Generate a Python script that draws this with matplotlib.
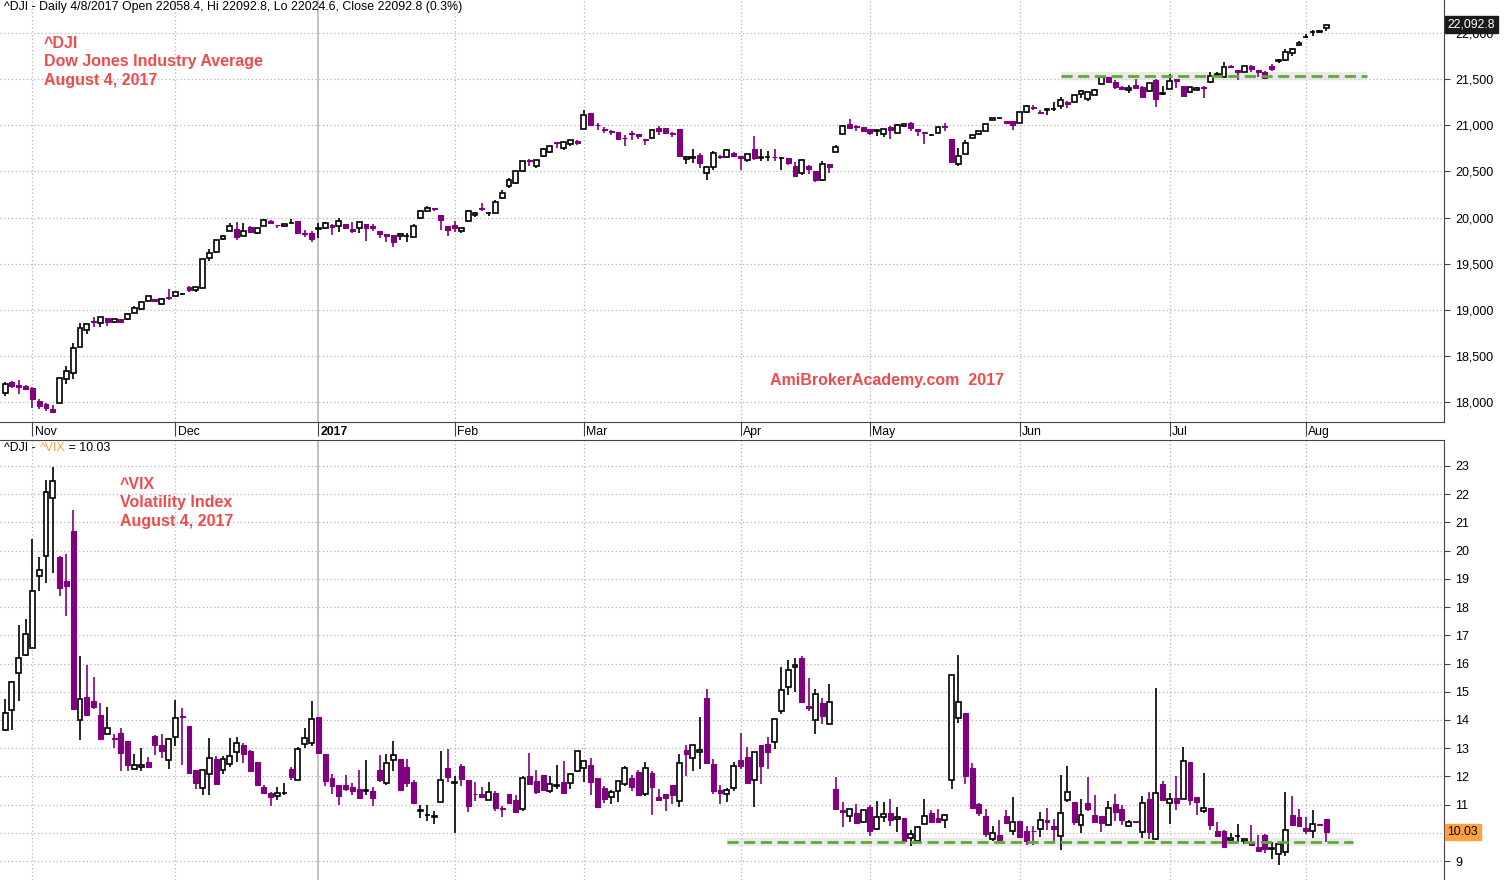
import numpy as np
import matplotlib
matplotlib.use("Agg")
import matplotlib.pyplot as plt
from matplotlib.transforms import blended_transform_factory

plt.rcParams['font.family'] = ['Liberation Sans', 'DejaVu Sans']

# ---- data, one entry per trading day, 26 Oct 2016 .. 4 Aug 2017 ----
dji_open = [18094, 18220, 18184, 18174, 18152, 18010, 17978, 17928, 17994, 18251,
            18317, 18600, 18780, 18876, 18860, 18910, 18870, 18897, 18897, 18962,
            19005, 19093, 19117, 19060, 19135, 19150, 19170, 19247, 19211, 19241,
            19557, 19630, 19764, 19850, 19876, 19805, 19902, 19836, 19913, 19967,
            19922, 19910, 19943, 19960, 19835, 19830, 19872, 19890, 19924, 19906,
            19931, 19876, 19887, 19926, 19905, 19852, 19819, 19810, 19795, 19795,
            19794, 19994, 20076, 20100, 20028, 19906, 19917, 19855, 19960, 20025,
            20101, 20050, 20051, 20210, 20338, 20374, 20504, 20627, 20564, 20663,
            20714, 20815, 20750, 20800, 20835, 20957, 21130, 21008, 20959, 20935,
            20930, 20860, 20919, 20906, 20850, 20867, 20967, 20967, 20917, 20957,
            20640, 20649, 20674, 20486, 20545, 20670, 20660, 20700, 20665, 20630,
            20740, 20650, 20654, 20660, 20650, 20642, 20555, 20480, 20556, 20500,
            20404, 20577, 20714, 20910, 21011, 20993, 20980, 20962, 20944, 20910,
            20986, 20920, 20988, 21022, 20957, 20928, 20893, 20920, 20989, 20850,
            20580, 20692, 20866, 20910, 20940, 21062, 21076, 21045, 21043, 21030,
            21140, 21195, 21150, 21170, 21180, 21206, 21257, 21257, 21344, 21290,
            21333, 21447, 21523, 21472, 21420, 21380, 21436, 21414, 21370, 21494,
            21345, 21393, 21505, 21425, 21360, 21384, 21418, 21470, 21550, 21530,
            21640, 21602, 21580, 21645, 21602, 21580, 21645, 21693, 21712, 21784,
            21873, 21960, 22015, 22011, 22058.4]
dji_high = [18217, 18230, 18238, 18180, 18160, 18030, 17990, 17968, 18260, 18390,
            18640, 18860, 18850, 18922, 18925, 18915, 18897, 18900, 18960, 19043,
            19083, 19152, 19118, 19130, 19225, 19196, 19180, 19255, 19252, 19550,
            19660, 19760, 19810, 19941, 19955, 19939, 19905, 19888, 19987, 19970,
            19922, 19935, 19980, 19965, 19862, 19860, 19938, 19955, 19930, 19999,
            19935, 19953, 19954, 19930, 19935, 19855, 19820, 19812, 19830, 19830,
            19935, 20080, 20125, 20102, 20030, 19910, 19960, 19890, 20081, 20060,
            20155, 20062, 20190, 20298, 20425, 20504, 20612, 20639, 20624, 20751,
            20777, 20821, 20822, 20840, 20840, 21169, 21130, 21025, 20980, 20950,
            20930, 20900, 20940, 20910, 20852, 20950, 20993, 20968, 20932, 20960,
            20665, 20747, 20700, 20563, 20725, 20677, 20740, 20710, 20667, 20690,
            20887, 20739, 20718, 20740, 20655, 20645, 20602, 20636, 20573, 20500,
            20616, 20580, 20783, 21007, 21070, 21000, 20985, 20965, 20950, 20960,
            20990, 21010, 21020, 21040, 20960, 20930, 20900, 20982, 21022, 20850,
            20750, 20841, 20900, 20940, 21012, 21085, 21082, 21050, 21043, 21144,
            21225, 21216, 21165, 21177, 21257, 21305, 21260, 21330, 21380, 21360,
            21390, 21535, 21523, 21497, 21430, 21436, 21505, 21425, 21460, 21500,
            21430, 21560, 21505, 21425, 21418, 21420, 21430, 21576, 21577, 21685,
            21655, 21605, 21642, 21655, 21605, 21585, 21668, 21722, 21830, 21840,
            21920, 21990, 22036, 22036, 22092.8]
dji_low = [18062, 18150, 18087, 18125, 17935, 17924, 17902, 17883, 17994, 18200,
           18250, 18600, 18740, 18818, 18808, 18828, 18862, 18855, 18890, 18960,
           19000, 19090, 19080, 19050, 19110, 19135, 19160, 19190, 19190, 19240,
           19532, 19620, 19753, 19850, 19753, 19800, 19830, 19820, 19910, 19935,
           19890, 19900, 19940, 19830, 19790, 19730, 19775, 19880, 19812, 19840,
           19873, 19830, 19832, 19750, 19855, 19780, 19740, 19680, 19760, 19740,
           19794, 19990, 20070, 20070, 19870, 19800, 19840, 19835, 19955, 20010,
           20070, 20020, 20051, 20200, 20320, 20365, 20496, 20556, 20540, 20655,
           20700, 20750, 20735, 20775, 20785, 20957, 20990, 20955, 20915, 20897,
           20842, 20776, 20838, 20848, 20786, 20866, 20895, 20905, 20877, 20656,
           20584, 20597, 20537, 20413, 20520, 20635, 20650, 20660, 20515, 20600,
           20630, 20613, 20613, 20613, 20515, 20574, 20439, 20460, 20472, 20386,
           20398, 20486, 20714, 20906, 20970, 20942, 20930, 20900, 20884, 20877,
           20848, 20915, 20985, 20940, 20884, 20801, 20880, 20915, 20938, 20602,
           20560, 20690, 20860, 20895, 20938, 21060, 21066, 21020, 20950, 21025,
           21137, 21170, 21120, 21112, 21160, 21180, 21190, 21255, 21300, 21265,
           21330, 21445, 21460, 21400, 21395, 21350, 21400, 21310, 21365, 21197,
           21330, 21390, 21410, 21310, 21355, 21380, 21295, 21460, 21520, 21525,
           21620, 21490, 21575, 21580, 21520, 21505, 21590, 21680, 21700, 21755,
           21860, 21953, 21974, 22005, 22024.6]
dji_close = [18192, 18170, 18161, 18142, 18037, 17959, 17930, 17888, 18259, 18332,
             18589, 18807, 18848, 18869, 18923, 18868, 18895, 18868, 18956, 19023,
             19083, 19152, 19098, 19122, 19124, 19192, 19171, 19216, 19252, 19550,
             19615, 19757, 19797, 19912, 19793, 19853, 19843, 19883, 19975, 19942,
             19918, 19933, 19945, 19834, 19820, 19763, 19882, 19942, 19899, 19964,
             19887, 19855, 19954, 19892, 19886, 19826, 19804, 19732, 19827, 19799,
             19912, 20069, 20100, 20094, 19971, 19864, 19891, 19885, 20071, 20052,
             20090, 20054, 20173, 20269, 20412, 20504, 20611, 20619, 20624, 20744,
             20776, 20811, 20822, 20837, 20812, 21115, 21003, 21006, 20954, 20925,
             20856, 20858, 20903, 20881, 20837, 20950, 20934, 20914, 20905, 20668,
             20661, 20656, 20597, 20550, 20701, 20659, 20728, 20663, 20650, 20690,
             20648, 20662, 20656, 20658, 20651, 20592, 20453, 20627, 20523, 20404,
             20578, 20548, 20763, 20996, 20975, 20981, 20941, 20913, 20949, 20957,
             20951, 21007, 21013, 20975, 20943, 20919, 20897, 20982, 20980, 20607,
             20663, 20804, 20895, 20937, 21012, 21083, 21080, 21029, 21009, 21144,
             21206, 21184, 21136, 21174, 21182, 21271, 21236, 21328, 21374, 21360,
             21384, 21528, 21467, 21411, 21397, 21410, 21409, 21311, 21455, 21288,
             21350, 21479, 21479, 21321, 21414, 21409, 21409, 21532, 21554, 21638,
             21630, 21575, 21641, 21612, 21580, 21513, 21613, 21711, 21797, 21830,
             21891, 21964, 22016, 22026, 22092.8]

vix_open = [13.65, 14.36, 15.66, 16.29, 16.55, 19.09, 19.82, 21.85, 19.77, 18.93,
            20.70, 14.00, 14.83, 14.69, 14.16, 13.51, 13.37, 13.54, 13.26, 12.26,
            12.34, 12.52, 13.43, 13.11, 12.59, 13.40, 14.15, 13.78, 12.21, 11.60,
            12.09, 12.60, 12.22, 12.45, 12.87, 13.10, 12.89, 12.50, 11.64, 11.43,
            11.31, 11.40, 12.28, 11.88, 13.16, 13.20, 14.10, 12.78, 11.96, 11.71,
            11.71, 11.61, 11.57, 11.50, 11.47, 12.21, 11.77, 12.59, 12.60, 12.32,
            11.82, 10.79, 10.62, 10.57, 11.10, 12.31, 11.78, 12.38, 11.86, 11.39,
            11.38, 11.17, 11.42, 10.87, 11.36, 11.18, 10.84, 12.02, 11.85, 12.06,
            11.48, 11.67, 11.80, 11.76, 12.19, 12.30, 12.41, 11.95, 11.60, 11.27,
            11.48, 11.73, 11.94, 12.15, 11.37, 12.13, 11.28, 11.38, 11.70, 11.12,
            12.93, 12.65, 12.86, 14.79, 12.44, 11.53, 11.37, 11.59, 12.58, 12.70,
            11.87, 13.12, 13.15, 13.22, 14.32, 15.17, 15.88, 16.21, 14.51, 14.00,
            14.60, 13.86, 11.56, 10.82, 10.59, 10.71, 10.38, 10.92, 10.12, 10.56,
            10.71, 10.48, 10.52, 9.83, 9.72, 10.31, 10.71, 10.53, 10.44, 11.86,
            14.08, 14.23, 12.31, 11.01, 10.60, 9.80, 9.93, 10.60, 10.08, 10.42,
            10.07, 10.07, 10.15, 10.46, 10.25, 9.90, 11.15, 11.10, 10.29, 11.07,
            10.65, 10.58, 10.29, 11.04, 10.83, 10.25, 10.41, 10.04, 11.19, 9.78,
            11.74, 11.07, 11.22, 11.21, 12.50, 11.26, 10.78, 10.87, 10.08, 10.08,
            9.75, 9.89, 9.70, 9.68, 9.51, 9.92, 9.43, 9.25, 9.33, 10.62,
            10.55, 10.19, 10.08, 10.31, 10.48]
vix_high = [14.76, 15.38, 17.35, 17.58, 20.41, 19.77, 22.50, 22.95, 19.80, 19.88,
            21.45, 16.26, 15.95, 15.53, 14.60, 14.47, 13.50, 13.70, 13.27, 12.81,
            13.00, 12.69, 13.47, 13.52, 13.35, 14.70, 14.44, 13.78, 12.22, 12.24,
            13.37, 12.71, 12.73, 13.37, 13.38, 13.20, 12.92, 12.50, 11.71, 11.45,
            11.64, 11.77, 12.33, 13.03, 13.71, 14.66, 14.10, 12.78, 12.07, 11.71,
            12.06, 11.75, 12.21, 12.57, 11.61, 12.75, 12.78, 13.24, 12.60, 12.60,
            11.86, 11.00, 10.97, 10.78, 12.89, 12.96, 12.02, 12.45, 11.86, 11.81,
            11.63, 11.79, 11.49, 10.94, 11.36, 11.33, 12.00, 12.83, 12.24, 12.06,
            12.02, 12.41, 12.56, 12.08, 12.90, 12.54, 12.66, 11.95, 11.67, 11.51,
            11.83, 12.38, 12.06, 12.21, 12.52, 12.20, 11.54, 11.38, 11.70, 12.79,
            13.12, 13.11, 14.12, 15.08, 12.63, 11.68, 11.60, 12.52, 13.55, 13.05,
            12.86, 13.12, 13.40, 14.04, 15.86, 16.13, 16.21, 16.25, 15.47, 15.11,
            14.79, 15.29, 11.99, 11.09, 10.84, 11.03, 10.82, 11.00, 11.12, 11.11,
            11.21, 10.92, 10.52, 10.09, 10.26, 11.21, 10.82, 10.85, 10.66, 15.61,
            16.30, 14.23, 12.49, 11.05, 10.83, 10.23, 10.44, 10.82, 11.28, 10.42,
            10.23, 10.26, 10.74, 10.89, 10.50, 12.06, 12.36, 11.10, 11.21, 11.99,
            11.33, 10.60, 11.12, 11.36, 10.97, 10.45, 10.41, 11.29, 11.46, 15.14,
            11.84, 11.43, 12.00, 13.03, 12.50, 11.26, 12.11, 10.87, 10.37, 10.11,
            10.01, 10.32, 9.79, 10.27, 9.93, 9.95, 9.69, 9.64, 11.46, 11.30,
            10.83, 10.55, 10.80, 10.31, 10.48]
vix_low = [13.60, 13.64, 14.66, 16.25, 16.55, 18.58, 18.87, 19.22, 18.41, 17.70,
           14.35, 13.28, 14.17, 14.40, 13.30, 13.50, 12.99, 12.18, 12.19, 12.22,
           12.20, 12.33, 12.75, 12.64, 12.26, 13.07, 12.40, 12.13, 11.55, 11.34,
           11.34, 11.69, 12.07, 12.34, 12.52, 12.46, 12.19, 11.69, 11.39, 10.94,
           11.16, 11.33, 11.87, 11.88, 13.00, 13.08, 12.83, 11.65, 11.39, 10.98,
           11.48, 11.33, 11.23, 11.33, 10.95, 11.79, 11.71, 12.19, 11.51, 11.63,
           11.05, 10.53, 10.42, 10.30, 11.10, 11.81, 9.99, 11.67, 10.74, 11.12,
           11.26, 11.17, 10.78, 10.55, 11.05, 10.73, 10.79, 11.70, 11.38, 11.48,
           11.42, 11.54, 11.36, 11.54, 12.14, 11.79, 11.33, 10.93, 11.07, 11.03,
           11.11, 11.67, 11.47, 11.30, 11.29, 10.62, 11.18, 10.79, 11.04, 10.93,
           12.00, 12.18, 12.28, 12.46, 11.36, 11.03, 11.11, 11.50, 12.27, 11.75,
           10.90, 11.72, 12.25, 12.96, 14.20, 14.88, 15.00, 14.63, 14.31, 13.49,
           13.85, 13.86, 10.83, 10.22, 10.40, 10.34, 10.35, 9.90, 10.10, 10.40,
           10.26, 10.02, 9.71, 9.55, 9.64, 10.30, 10.37, 10.38, 10.19, 11.54,
           13.90, 11.72, 10.89, 10.58, 9.87, 9.72, 9.67, 10.35, 9.93, 9.86,
           9.58, 9.58, 9.86, 10.10, 9.71, 9.38, 11.10, 10.29, 10.01, 10.76,
           10.37, 10.02, 10.27, 10.42, 10.28, 10.21, 10.39, 9.81, 9.78, 9.76,
           11.16, 10.30, 10.81, 11.21, 10.99, 10.64, 10.70, 10.10, 9.89, 9.51,
           9.75, 9.69, 9.62, 9.55, 9.32, 9.30, 9.07, 8.86, 9.19, 10.28,
           10.24, 9.96, 9.83, 10.29, 9.69]
vix_close = [14.25, 15.35, 16.19, 17.04, 18.56, 19.31, 22.06, 22.48, 18.69, 18.73,
             14.38, 14.76, 14.17, 14.45, 13.34, 13.72, 13.33, 12.82, 12.40, 12.41,
             12.42, 12.33, 13.13, 12.90, 13.33, 14.08, 14.12, 12.13, 11.78, 12.24,
             12.64, 11.73, 12.62, 12.74, 13.19, 12.79, 12.19, 11.69, 11.43, 11.26,
             11.42, 11.42, 11.98, 12.96, 13.37, 14.05, 12.83, 11.83, 11.65, 11.30,
             11.55, 11.49, 11.23, 11.52, 11.23, 11.87, 12.49, 12.77, 11.51, 11.77,
             11.05, 10.81, 10.63, 10.58, 11.88, 11.98, 11.80, 11.90, 10.94, 11.37,
             11.26, 11.45, 10.87, 10.85, 11.05, 10.73, 11.94, 11.74, 11.46, 11.53,
             11.73, 11.69, 11.43, 12.08, 12.90, 12.54, 11.79, 10.93, 11.21, 11.44,
             11.83, 12.30, 11.64, 11.33, 12.30, 11.61, 11.18, 11.25, 11.33, 12.47,
             12.78, 13.11, 12.95, 12.46, 11.50, 11.41, 11.51, 12.37, 12.37, 11.75,
             12.86, 12.36, 12.85, 14.04, 15.07, 15.78, 15.95, 14.63, 14.41, 14.92,
             14.13, 14.64, 10.83, 10.73, 10.84, 10.34, 10.80, 10.08, 10.56, 10.66,
             10.44, 10.56, 9.71, 9.95, 10.20, 10.59, 10.37, 10.40, 10.64, 15.61,
             14.65, 12.00, 10.89, 10.69, 9.97, 10.00, 9.75, 10.35, 10.39, 9.86,
             9.71, 10.05, 10.45, 10.37, 10.12, 10.71, 11.44, 10.40, 10.64, 10.85,
             10.37, 10.34, 10.87, 10.74, 10.45, 10.40, 10.39, 11.07, 10.02, 11.42,
             11.16, 11.21, 11.06, 12.56, 11.15, 11.09, 10.89, 10.28, 9.89, 9.51,
             9.83, 9.90, 9.79, 9.58, 9.36, 9.43, 9.45, 9.59, 10.11, 10.28,
             10.24, 10.08, 10.30, 10.29, 10.03]

# first trading day of each month (index into the arrays above)
month_idx = [4, 25, 46, 66, 85, 108, 127, 149, 171, 191]
month_lbl = ['Nov', 'Dec', '2017', 'Feb', 'Mar', 'Apr', 'May', 'Jun', 'Jul', 'Aug']

dji_ticks = [18000, 18500, 19000, 19500, 20000, 20500, 21000, 21500, 22000]
vix_ticks = list(range(9, 24))

dji_support = 21535
vix_support = 9.69

PURPLE = '#800080'
RED = '#EE4B4B'
ORANGE = '#FFA040'
GRID = '#b4b4b4'


def candles(ax, o, h, l, c):
    o, h, l, c = map(np.asarray, (o, h, l, c))
    x = np.arange(len(o))
    up = c >= o
    ax.vlines(x[up], l[up], h[up], colors='black', lw=1.2, zorder=3)
    ax.vlines(x[~up], l[~up], h[~up], colors=PURPLE, lw=1.2, zorder=3)
    ax.bar(x[up], (c - o)[up], bottom=o[up], width=0.72, facecolor='white',
           edgecolor='black', lw=1.2, zorder=4)
    ax.bar(x[~up], (o - c)[~up], bottom=c[~up], width=0.72, facecolor=PURPLE,
           edgecolor=PURPLE, lw=0.8, zorder=4)


def month_grid(ax):
    for i, lbl in zip(month_idx, month_lbl):
        if lbl == '2017':
            ax.axvline(i, color='#b8b8b8', lw=1.2, zorder=1)
        else:
            ax.axvline(i, color=GRID, lw=0.9, ls=(0, (1, 2)), zorder=1)


W, H = 1504, 880
fig = plt.figure(figsize=(W / 100, H / 100), dpi=100)
ax1 = fig.add_axes([0, 1 - 422 / H, 1444 / W, 422 / H])
ax2 = fig.add_axes([0, 0, 1444 / W, 440 / H])

xlim = (-0.75, 211.3)

# ---- top panel: DJI ----
candles(ax1, dji_open, dji_high, dji_low, dji_close)
ax1.set_xlim(*xlim)
ax1.set_ylim(17783, 22360)
ax1.yaxis.tick_right()
ax1.set_yticks(dji_ticks)
ax1.set_yticklabels([f'{v:,}' for v in dji_ticks], fontsize=9)
ax1.tick_params(axis='y', length=4, pad=4, color='#444444')
for v in dji_ticks:
    ax1.axhline(v, color=GRID, lw=0.9, ls=(0, (1, 2)), zorder=1)
month_grid(ax1)
ax1.set_xticks(month_idx)
ax1.set_xticklabels([])
ax1.tick_params(axis='x', length=10, direction='out', color='#444444')
tr = blended_transform_factory(ax1.transData, ax1.transAxes)
for i, lbl in zip(month_idx, month_lbl):
    ax1.text(i + 0.35, -0.009, lbl, transform=tr, ha='left', va='top', fontsize=8.8,
             fontweight='bold' if lbl == '2017' else 'normal')
for s in ['left', 'top']:
    ax1.spines[s].set_visible(False)
ax1.spines['right'].set_color('#444444')
ax1.spines['bottom'].set_color('#444444')

ax1.plot([155, 200], [dji_support, dji_support], color='#dcdcdc', lw=6, alpha=0.6,
         solid_capstyle='butt', zorder=2)
ax1.plot([155, 200], [dji_support, dji_support], color='#5faa32', lw=2,
         ls=(0, (4, 2)), zorder=5)

ax1.text(0.003, 0.997, '^DJI - Daily 4/8/2017 Open 22058.4, Hi 22092.8, Lo 22024.6, '
         'Close 22092.8 (0.3%)', transform=ax1.transAxes, ha='left', va='top', fontsize=8.9)
ax1.text(44 / 1444, 1 - 36 / 422, '^DJI\nDow Jones Industry Average\nAugust 4, 2017',
         transform=ax1.transAxes, ha='left', va='top', color=RED, fontsize=11.5,
         fontweight='bold', linespacing=1.28)
ax1.text(770 / 1444, 1 - 381 / 422, 'AmiBrokerAcademy.com  2017', transform=ax1.transAxes,
         ha='left', va='center', color=RED, fontsize=11.5, fontweight='bold')
ax1.text(1.0025, dji_close[-1], f'{dji_close[-1]:,.1f}', transform=blended_transform_factory(
    ax1.transAxes, ax1.transData), ha='left', va='center', color='white', fontsize=8.8,
    bbox=dict(boxstyle='square,pad=0.2', fc='#1a1a1a', ec='#1a1a1a'), zorder=10)

# ---- bottom panel: VIX ----
candles(ax2, vix_open, vix_high, vix_low, vix_close)
ax2.set_xlim(*xlim)
ax2.set_ylim(8.33, 23.92)
ax2.yaxis.tick_right()
ax2.set_yticks(vix_ticks)
ax2.set_yticklabels([str(v) for v in vix_ticks], fontsize=9)
ax2.tick_params(axis='y', length=4, pad=4, color='#444444')
for v in vix_ticks:
    ax2.axhline(v, color=GRID, lw=0.9, ls=(0, (1, 2)), zorder=1)
month_grid(ax2)
ax2.set_xticks([])
for s in ['left', 'bottom']:
    ax2.spines[s].set_visible(False)
ax2.spines['right'].set_color('#444444')
ax2.spines['top'].set_color('#444444')

ax2.plot([106, 198], [vix_support, vix_support], color='#dcdcdc', lw=6, alpha=0.6,
         solid_capstyle='butt', zorder=2)
ax2.plot([106, 198], [vix_support, vix_support], color='#5faa32', lw=2,
         ls=(0, (4, 2)), zorder=5)

t1 = ax2.text(0.003, 1 - 2 / 440, '^DJI - ', transform=ax2.transAxes, ha='left', va='top',
              fontsize=8.9)
t2 = ax2.annotate('^VIX', xy=(1, 0), xycoords=t1, ha='left', va='bottom', fontsize=8.9,
                  color=ORANGE)
ax2.annotate(f' = {vix_close[-1]:.2f}', xy=(1, 0), xycoords=t2, ha='left', va='bottom',
             fontsize=8.9)
ax2.text(120 / 1444, 1 - 37 / 440, '^VIX\nVolatility Index\nAugust 4, 2017',
         transform=ax2.transAxes, ha='left', va='top', color=RED, fontsize=11.5,
         fontweight='bold', linespacing=1.28)
ax2.text(1.0025, vix_close[-1], f'{vix_close[-1]:.2f}', transform=blended_transform_factory(
    ax2.transAxes, ax2.transData), ha='left', va='center', color='black', fontsize=8.8,
    bbox=dict(boxstyle='square,pad=0.2', fc=ORANGE, ec=ORANGE), zorder=10)

fig.savefig('out.png', dpi=100)
